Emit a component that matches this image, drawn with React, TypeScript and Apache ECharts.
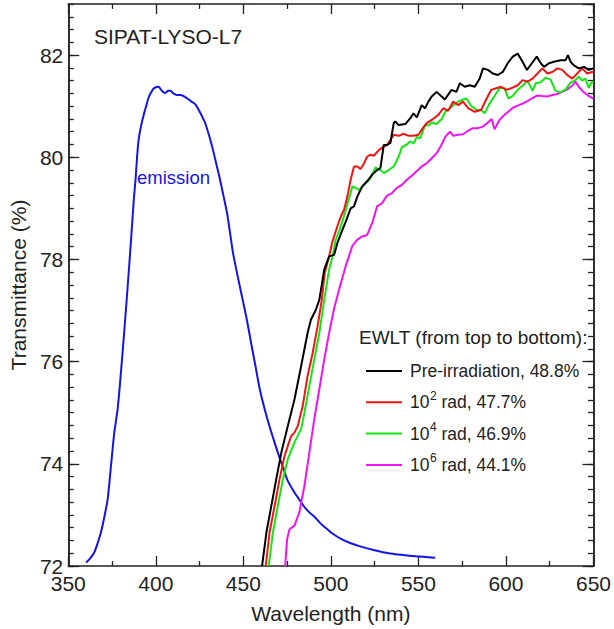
import React, { useEffect, useRef } from "react";
import * as echarts from "echarts";

const FONT = '"Liberation Sans", Arial, Helvetica, sans-serif';
const AXIS_COLOR = "#222";

// x-axis ticks (nm) and y-axis ticks (%)
const xTickValues = [350, 400, 450, 500, 550, 600, 650];
const yTickValues = [72, 74, 76, 78, 80, 82];

// Emission spectrum (arbitrary scale drawn on transmittance axis): [wavelength, value]
const emission: number[][] = [
  [360.2, 72.07], [362.5, 72.15], [364.9, 72.27], [366.8, 72.45], [368.7, 72.66], [370.6, 72.96],
  [372.5, 73.31], [374.4, 73.96], [376.3, 74.61], [378.2, 75.07], [380, 75.75], [382, 76.6],
  [384, 77.5], [386, 78.45], [387.4, 79.15], [388.5, 79.6], [389.3, 80.0], [390.2, 80.34],
  [391.5, 80.6], [393, 80.82], [394.5, 81.0], [396, 81.18], [397.5, 81.28], [398.7, 81.34],
  [400, 81.37], [401.6, 81.38], [403, 81.32], [404.5, 81.27], [405.5, 81.26], [407, 81.3],
  [408.4, 81.3], [410, 81.25], [412, 81.22], [414, 81.22], [415.7, 81.2], [418, 81.15],
  [420.8, 81.08], [422.5, 81.04], [424, 80.96], [425.4, 80.87], [427, 80.76], [428.2, 80.67],
  [430.5, 80.42], [432.7, 80.14], [434.7, 79.85], [436.7, 79.56], [438.7, 79.24], [440.7, 78.91],
  [442.4, 78.52], [444.1, 78.13], [446, 77.8], [448, 77.47], [450, 77.15], [452, 76.82],
  [454.8, 76.3], [457, 75.9], [459.4, 75.46], [462.2, 75.07], [465, 74.73], [468, 74.4],
  [470.7, 74.12], [473, 73.9], [475.2, 73.68], [479, 73.45], [482, 73.3], [485, 73.15],
  [487.7, 73.05], [491, 72.95], [494.5, 72.82], [498, 72.72], [500.7, 72.64], [505.8, 72.53],
  [511, 72.45], [517.2, 72.38], [525, 72.31], [533, 72.25], [540, 72.22], [548.3, 72.19],
  [553, 72.18], [559.6, 72.16],
];

// Pre-irradiation transmittance
const preIrradiation: number[][] = [
  [460.7, 72.0], [463.2, 72.66], [466, 73.18], [468.8, 73.7], [471.7, 74.22], [475.4, 74.74],
  [479.2, 75.26], [483, 75.91], [486.7, 76.56], [488.6, 76.82], [491.5, 77.02], [493.4, 77.21],
  [496.2, 77.8], [499, 78.06], [501.9, 78.09], [503.7, 78.32], [506.6, 78.58], [508.5, 78.74],
  [511.3, 79.0], [513.2, 79.04], [515.1, 79.23], [517.9, 79.43], [520.7, 79.53], [523.6, 79.66],
  [526.4, 79.75], [528.3, 79.79], [530.2, 80.24], [532.1, 80.24], [534, 80.28], [535.9, 80.67],
  [536.8, 80.7], [538.7, 80.63], [542.5, 80.65], [545.3, 80.76], [547.2, 80.86], [549.1, 80.78],
  [551.9, 81.02], [553.8, 80.96], [555.7, 81.09], [557.6, 81.19], [560.4, 81.28], [563.3, 81.19],
  [565.1, 81.13], [568.9, 81.32], [571.7, 81.28], [573.7, 81.45], [576.5, 81.38], [579.3, 81.41],
  [582.2, 81.38], [585, 81.54], [586.9, 81.74], [589.7, 81.71], [592.5, 81.64], [595.4, 81.61],
  [598.2, 81.67], [601, 81.84], [603.9, 81.97], [606.7, 82.03], [609.5, 81.87], [612, 81.71],
  [614.8, 81.84], [617.6, 81.97], [619.9, 81.84], [621.8, 81.77], [624.6, 81.84], [627.5, 81.87],
  [631.2, 81.9], [634.1, 81.9], [635.4, 82.0], [636.9, 81.87], [638.8, 81.8], [641.6, 81.74],
  [644.5, 81.77], [647.3, 81.71], [650, 81.74],
];

// 10^2 rad
const rad1e2: number[][] = [
  [462.8, 72.0], [465, 72.66], [467.9, 73.18], [470.7, 73.7], [473.5, 74.15], [475.4, 74.35],
  [477.3, 74.54], [479.2, 74.61], [481.1, 74.74], [483.9, 75.13], [486.7, 75.72], [489.6, 76.17],
  [492.4, 76.69], [494.8, 77.21], [496.5, 77.74], [499, 78.06], [500.9, 78.35], [503.7, 78.65],
  [505.7, 78.84], [507.5, 78.97], [509.4, 79.23], [511.3, 79.56], [513.2, 79.82], [515.1, 79.82],
  [517, 79.77], [518.9, 79.88], [520.7, 80.01], [522.6, 80.05], [524.5, 80.03], [527.4, 80.14],
  [530.2, 80.21], [532.1, 80.24], [534, 80.34], [535.9, 80.44], [538.7, 80.42], [541.5, 80.46],
  [544.4, 80.42], [547.2, 80.42], [550, 80.44], [551.9, 80.54], [554.7, 80.67], [557.6, 80.73],
  [561.4, 80.83], [564.2, 80.96], [567, 80.91], [569.9, 81.09], [572.7, 81.02], [575.5, 81.09],
  [578.4, 80.96], [582.2, 80.89], [585.9, 80.93], [588.7, 81.13], [591.6, 81.32], [594.4, 81.35],
  [597.2, 81.38], [600.1, 81.32], [602.9, 81.35], [606.7, 81.41], [609.5, 81.51], [612.3, 81.48],
  [615.2, 81.54], [618, 81.64], [620.8, 81.74], [623.7, 81.64], [626.5, 81.67], [629.4, 81.74],
  [632.2, 81.71], [635, 81.61], [637.9, 81.54], [640.7, 81.64], [643.5, 81.74], [646.4, 81.64],
  [649.2, 81.67], [650, 81.66],
];

// 10^4 rad
const rad1e4: number[][] = [
  [464.5, 72.0], [466.9, 72.66], [469.7, 73.18], [472.6, 73.7], [475.4, 74.09], [479.2, 74.42],
  [483, 74.68], [484.9, 75.0], [487.7, 75.52], [490.5, 76.04], [493.4, 76.56], [496.2, 77.21],
  [499, 77.8], [500.9, 78.06], [502.8, 78.39], [504.7, 78.55], [506.6, 78.75], [508.5, 78.97],
  [510.4, 79.2], [512.3, 79.43], [514.1, 79.4], [516, 79.36], [517.9, 79.42], [519.8, 79.49],
  [522.6, 79.59], [525.5, 79.8], [528.3, 79.75], [530.2, 79.69], [533, 79.75], [535.9, 79.82],
  [538.7, 80.01], [540.6, 80.2], [543.4, 80.25], [545.3, 80.31], [547.2, 80.27], [549.1, 80.4],
  [551, 80.37], [553.8, 80.63], [555.7, 80.62], [557.6, 80.68], [560.4, 80.65], [563.3, 80.75],
  [565.1, 80.88], [567, 80.93], [569.9, 81.02], [572.7, 81.09], [575.5, 81.13], [577.4, 81.15],
  [580.3, 81.0], [583.1, 80.93], [585.9, 80.92], [587.8, 80.86], [590.6, 81.05], [593.5, 81.2],
  [596.3, 81.35], [599.1, 81.36], [601.4, 81.15], [603.9, 81.2], [606.7, 81.32], [609.5, 81.4],
  [612.3, 81.5], [615.2, 81.3], [617, 81.45], [619.9, 81.47], [622.7, 81.56], [625.5, 81.52],
  [628.3, 81.3], [631.2, 81.27], [634.1, 81.33], [636.9, 81.46], [639.7, 81.51], [641.6, 81.58],
  [643.5, 81.5], [645.4, 81.54], [647.3, 81.36], [649.2, 81.48], [650, 81.46],
];

// 10^6 rad
const rad1e6: number[][] = [
  [473.9, 72.0], [475, 72.53], [476.4, 72.72], [479.2, 72.79], [482, 73.05], [484.9, 73.57],
  [487.7, 74.22], [490.5, 74.87], [493.4, 75.46], [496.2, 76.04], [499, 76.56], [501.9, 77.05],
  [504.7, 77.41], [508.5, 77.87], [512.2, 78.26], [515.1, 78.39], [517.9, 78.45], [520.7, 78.48],
  [523.6, 78.71], [526.4, 79.04], [529.2, 79.1], [532.1, 79.25], [534.9, 79.3], [537.7, 79.4],
  [540.6, 79.46], [543.4, 79.56], [546.2, 79.64], [549.1, 79.73], [551.9, 79.82], [554.7, 79.88],
  [557.6, 79.98], [560.4, 80.08], [563.3, 80.25], [565.3, 80.4], [568, 80.5], [569.9, 80.42],
  [572.7, 80.44], [575.5, 80.45], [578.4, 80.52], [581.2, 80.57], [584, 80.57], [586.9, 80.6],
  [589.7, 80.68], [591.8, 80.75], [593.5, 80.55], [596.3, 80.73], [599.1, 80.83], [601, 80.88],
  [603.9, 80.97], [606.7, 81.01], [609.5, 81.05], [612.3, 81.1], [615.2, 81.16], [618, 81.21],
  [620.8, 81.2], [623.7, 81.19], [626.5, 81.22], [629.4, 81.24], [632.2, 81.28], [635, 81.33],
  [637.9, 81.4], [639.7, 81.48], [641.6, 81.38], [644.5, 81.27], [647.3, 81.2], [649.2, 81.16],
  [650, 81.15],
];

const seriesNames = [
  "Pre-irradiation, 48.8%",
  "10^2 rad, 47.7%",
  "10^4 rad, 46.9%",
  "10^6 rad, 44.1%",
];
const legendExponents = ["", "2", "4", "6"];
const legendRest = ["Pre-irradiation, 48.8%", " rad, 47.7%", " rad, 46.9%", " rad, 44.1%"];
const seriesColors = ["#000000", "#f01414", "#14e614", "#f014f0"];
const EMISSION_COLOR = "#1414e6";

export default function App() {
  const ref = useRef<HTMLDivElement>(null);

  useEffect(() => {
    if (!ref.current) return;
    const chart = echarts.init(ref.current, null, { renderer: "svg" });

    const tickLine = { color: AXIS_COLOR, width: 1.3 };
    const baseX = {
      type: "value" as const,
      min: xTickValues[0],
      max: xTickValues[xTickValues.length - 1],
      interval: 50,
      axisLine: { show: true, onZero: false, lineStyle: { color: AXIS_COLOR, width: 1.5 } },
      axisTick: { show: true, inside: true, length: 10, lineStyle: tickLine },
      minorTick: { show: true, splitNumber: 2, length: 5, lineStyle: tickLine },
      splitLine: { show: false },
    };
    const baseYMajor = {
      type: "value" as const,
      min: 72,
      max: 83,
      interval: 2,
      axisLine: { show: true, onZero: false, lineStyle: { color: AXIS_COLOR, width: 1.5 } },
      axisTick: { show: true, inside: true, length: 11, lineStyle: tickLine },
      splitLine: { show: false },
    };
    const baseYMinor = {
      type: "value" as const,
      min: 72,
      max: 83,
      interval: 0.25,
      axisLine: { show: true, onZero: false, lineStyle: { color: AXIS_COLOR, width: 1.5 } },
      axisTick: { show: true, inside: true, length: 5.5, lineStyle: tickLine },
      axisLabel: { show: false },
      splitLine: { show: false },
    };

    const legendX0 = 366;
    const legendX1 = 402;
    const legendTextX = 410;
    const legendY0 = 371;
    const legendDy = 31.3;
    const entryFont = 17.5;
    const tenWidth = 2 * 0.556 * entryFont;

    const legendGraphics: any[] = [
      {
        type: "text",
        left: 359,
        top: 339 - 11,
        style: {
          text: "EWLT (from top to bottom):",
          fontSize: 19,
          fontFamily: FONT,
          fill: AXIS_COLOR,
        },
      },
    ];
    seriesNames.forEach((_, i) => {
      const y = legendY0 + i * legendDy;
      legendGraphics.push({
        type: "line",
        shape: { x1: legendX0, y1: y, x2: legendX1, y2: y },
        style: { stroke: seriesColors[i], lineWidth: 2 },
      });
      if (legendExponents[i] === "") {
        legendGraphics.push({
          type: "text",
          x: legendTextX,
          y,
          style: {
            text: legendRest[i],
            fontSize: entryFont,
            fontFamily: FONT,
            fill: AXIS_COLOR,
            verticalAlign: "middle",
            align: "left",
          },
        });
      } else {
        legendGraphics.push({
          type: "text",
          x: legendTextX,
          y,
          style: {
            text: "10",
            fontSize: entryFont,
            fontFamily: FONT,
            fill: AXIS_COLOR,
            verticalAlign: "middle",
            align: "left",
          },
        });
        legendGraphics.push({
          type: "text",
          x: legendTextX + tenWidth + 0.5,
          y: y - 6.5,
          style: {
            text: legendExponents[i],
            fontSize: 12,
            fontFamily: FONT,
            fill: AXIS_COLOR,
            verticalAlign: "middle",
            align: "left",
          },
        });
        legendGraphics.push({
          type: "text",
          x: legendTextX + tenWidth + 0.5 + 0.556 * 12,
          y,
          style: {
            text: legendRest[i],
            fontSize: entryFont,
            fontFamily: FONT,
            fill: AXIS_COLOR,
            verticalAlign: "middle",
            align: "left",
          },
        });
      }
    });

    const option: any = {
      animation: false,
      backgroundColor: "#ffffff",
      grid: { left: 67, right: 18, top: 4, bottom: 62, containLabel: false },
      xAxis: [
        {
          ...baseX,
          position: "bottom",
          axisLabel: {
            show: true,
            fontSize: 21,
            lineHeight: 16,
            color: AXIS_COLOR,
            fontFamily: FONT,
            margin: 9,
          },
          name: "Wavelength (nm)",
          nameLocation: "middle",
          nameGap: 37,
          nameTextStyle: { fontSize: 21, color: AXIS_COLOR, fontFamily: FONT },
        },
        {
          ...baseX,
          position: "top",
          axisLabel: { show: false },
        },
      ],
      yAxis: [
        {
          ...baseYMajor,
          position: "left",
          axisLabel: {
            show: true,
            fontSize: 21,
            lineHeight: 16,
            color: AXIS_COLOR,
            fontFamily: FONT,
            margin: 5,
            showMaxLabel: false,
            formatter: (v: number) => (yTickValues.includes(v) ? String(v) : ""),
          },
          name: "Transmittance (%)",
          nameLocation: "middle",
          nameGap: 34,
          nameTextStyle: { fontSize: 21, color: AXIS_COLOR, fontFamily: FONT },
        },
        { ...baseYMinor, position: "left" },
        { ...baseYMajor, position: "right", axisLabel: { show: false } },
        { ...baseYMinor, position: "right" },
      ],
      series: [
        {
          name: "emission",
          type: "line",
          data: emission,
          showSymbol: false,
          symbol: "none",
          smooth: 0.3,
          lineStyle: { color: EMISSION_COLOR, width: 2 },
          itemStyle: { color: EMISSION_COLOR },
          z: 2,
        },
        ...[preIrradiation, rad1e2, rad1e4, rad1e6].map((d, i) => ({
          name: seriesNames[i],
          type: "line",
          data: d,
          showSymbol: false,
          symbol: "none",
          lineStyle: { color: seriesColors[i], width: 2 },
          itemStyle: { color: seriesColors[i] },
          z: 3 + (3 - i),
        })),
      ],
      graphic: [
        {
          type: "text",
          left: 94,
          top: 38 - 12,
          style: { text: "SIPAT-LYSO-L7", fontSize: 21, fontFamily: FONT, fill: AXIS_COLOR },
        },
        {
          type: "text",
          left: 137,
          top: 178 - 10.5,
          style: { text: "emission", fontSize: 18.5, fontFamily: FONT, fill: EMISSION_COLOR },
        },
        ...legendGraphics,
      ],
    };

    chart.setOption(option);
    return () => chart.dispose();
  }, []);

  return (
    <div
      ref={ref}
      style={{ position: "absolute", left: 0, top: 0, width: 614, height: 629, background: "#fff" }}
    />
  );
}
